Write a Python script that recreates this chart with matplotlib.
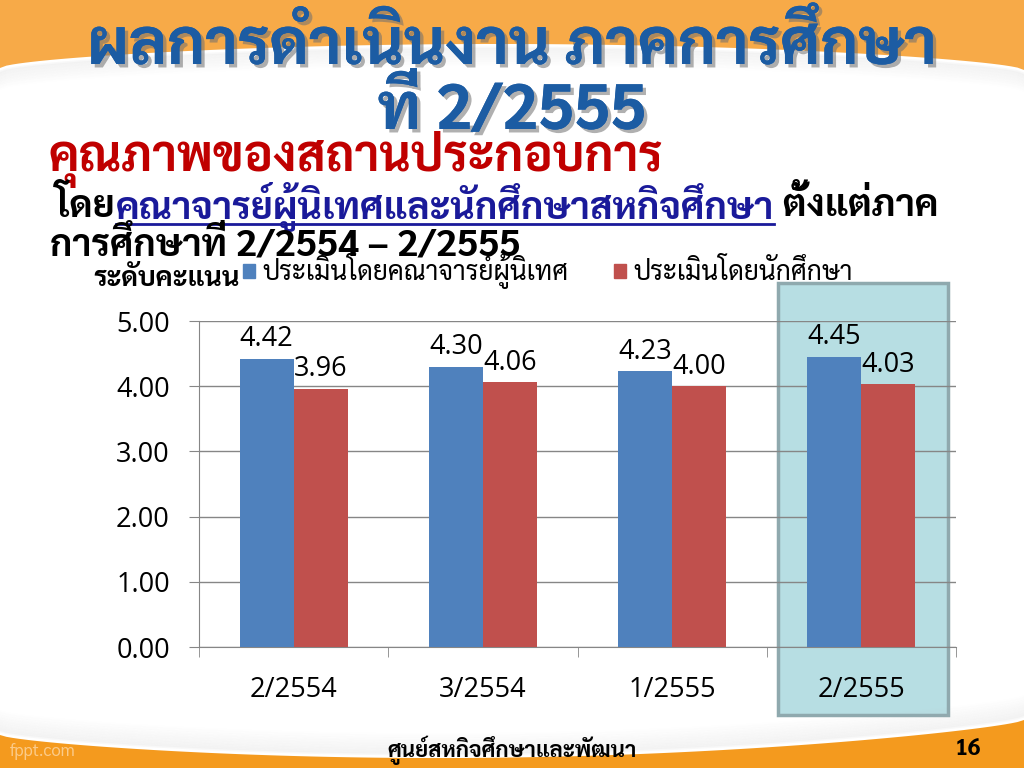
import numpy as np
import matplotlib
matplotlib.use("Agg")
import matplotlib.pyplot as plt
from matplotlib import font_manager as fm
from matplotlib.patches import Rectangle, Polygon, Patch
import matplotlib.patheffects as pe

# ---------------- data ----------------
categories = ["2/2554", "3/2554", "1/2555", "2/2555"]
supervisor_scores = [4.42, 4.30, 4.23, 4.45]
student_scores = [3.96, 4.06, 4.00, 4.03]
series_names = ["ประเมินโดยคณาจารย์ผู้นิเทศ", "ประเมินโดยนักศึกษา"]
y_ticks = [0.0, 1.0, 2.0, 3.0, 4.0, 5.0]
title_lines = ["ผลการดำเนินงาน ภาคการศึกษา", "ที่ 2/2555"]
subtitle = "คุณภาพของสถานประกอบการ"
line2_a = "โดย"
line2_b = "คณาจารย์ผู้นิเทศและนักศึกษาสหกิจศึกษา"
line2_c = " ตั้งแต่ภาค"
line3 = "การศึกษาที่ 2/2554 – 2/2555"
y_label = "ระดับคะแนน"
footer = "ศูนย์สหกิจศึกษาและพัฒนา"
page_no = "16"

# ---------------- fonts ----------------
def find_thai_fonts():
    found = {}
    try:
        from fontTools.ttLib import TTFont
    except Exception:
        return found
    for f in fm.fontManager.ttflist:
        try:
            tt = TTFont(f.fname, fontNumber=0, lazy=True)
            cmap = tt.getBestCmap()
            if cmap and 0x0E01 in cmap:
                w = f.weight if isinstance(f.weight, int) else 400
                found.setdefault(f.name, set()).add(w)
        except Exception:
            pass
    return found

thai = find_thai_fonts()
pref = ["Noto Sans Thai", "Noto Sans Thai UI", "Sarabun", "Loma", "Garuda", "Tlwg Typo", "Kinnari", "Norasi"]
cands = [p for p in pref if p in thai] + [n for n in thai if n not in pref]
with_bold = [n for n in cands if max(thai[n]) >= 600]
thai_font = with_bold[0] if with_bold else (cands[0] if cands else None)
HAS_BOLD = bool(with_bold)
FAM = ([thai_font] if thai_font else []) + ["Open Sans", "DejaVu Sans"]
NUM = ["Open Sans", "DejaVu Sans"]
plt.rcParams["font.family"] = FAM

def bold(color, size, extra=None):
    kw = dict(fontweight="bold", color=color, fontsize=size)
    effects = list(extra or [])
    if not HAS_BOLD:
        effects.append(pe.withStroke(linewidth=size * 0.07, foreground=color))
    if effects:
        if HAS_BOLD:
            effects.append(pe.Normal())
        kw["path_effects"] = effects
    return kw

W, H = 1024, 768
fig = plt.figure(figsize=(W / 100, H / 100), dpi=100)
fig.patch.set_facecolor("white")

# ---------------- background ----------------
bg = fig.add_axes([0, 0, 1, 1], zorder=-5)
bg.set_xlim(0, W)
bg.set_ylim(H, 0)
bg.axis("off")
xs = np.linspace(0, W, 160)
t = xs / W
top_curve = 68 + 2 * t - 25 * np.sin(np.pi * t) ** 0.6
for k in range(12):
    bg.plot(xs, top_curve + 4 + k * 1.5, color="#BFBFBF", lw=2, alpha=0.10 * (1 - k / 12))
bg.add_patch(Polygon(np.column_stack([np.r_[0, xs, W], np.r_[0, top_curve + 2, 0]]),
                     closed=True, fc="white", ec="none"))
bg.add_patch(Polygon(np.column_stack([np.r_[0, xs, W], np.r_[0, top_curve, 0]]),
                     closed=True, fc="#F7AA48", ec="none"))
bot_curve = 735 - 15 * t + 30 * np.sin(np.pi * t) ** 0.7
for k in range(14):
    bg.plot(xs, bot_curve - 4 - k * 1.5, color="#BFBFBF", lw=2, alpha=0.10 * (1 - k / 14))
bg.add_patch(Polygon(np.column_stack([np.r_[0, xs, W], np.r_[H, bot_curve - 2, H]]),
                     closed=True, fc="white", ec="none"))
bg.add_patch(Polygon(np.column_stack([np.r_[0, xs, W], np.r_[H, bot_curve, H]]),
                     closed=True, fc="#F49A1E", ec="none"))
# highlight box around last category
bg.add_patch(Rectangle((778, 283), 170, 432, fc="#B7DEE3", ec="#8FA9AE", lw=2.5))

# ---------------- chart ----------------
ax = fig.add_axes([199 / W, 1 - 647 / H, (956 - 199) / W, (647 - 321) / H])
ax.set_facecolor("none")
x = np.arange(len(categories))
bw = 0.285
c_blue, c_red = "#4F81BD", "#C0504D"
b1 = ax.bar(x - bw / 2, supervisor_scores, bw, color=c_blue, zorder=3)
b2 = ax.bar(x + bw / 2, student_scores, bw, color=c_red, zorder=3)
for bars, vals in ((b1, supervisor_scores), (b2, student_scores)):
    for r, v in zip(bars, vals):
        ax.annotate(f"{v:.2f}", (r.get_x() + r.get_width() / 2, v), xytext=(0, 4),
                    textcoords="offset points", ha="center", va="bottom",
                    fontsize=19.5, family=NUM, color="black", zorder=4)

ax.set_xlim(-0.5, len(categories) - 0.5)
ax.set_ylim(0, 5)
ax.set_yticks(y_ticks)
ax.set_yticklabels([f"{v:.2f}" for v in y_ticks], family=NUM, fontsize=19.5)
ax.set_xticks(x)
ax.set_xticklabels(categories, family=NUM, fontsize=19.5)
ax.set_xticks(np.arange(-0.5, len(categories)), minor=True)
ax.tick_params(axis="x", which="major", length=0, pad=21)
ax.tick_params(axis="x", which="minor", length=7, color="#868686", direction="out")
ax.tick_params(axis="y", length=7, color="#868686", pad=14)
ax.grid(axis="y", color="#868686", lw=1, zorder=1)
for s in ("top", "right"):
    ax.spines[s].set_visible(False)
for s in ("left", "bottom"):
    ax.spines[s].set_color("#868686")
ax.set_axisbelow(True)

# legend
fig.legend(handles=[Patch(color=c_blue, label=series_names[0]),
                    Patch(color=c_red, label=series_names[1])],
           loc="center left", bbox_to_anchor=(243 / W, 1 - 271 / H), ncol=2,
           frameon=False, fontsize=19, handlelength=0.45, handleheight=0.45,
           handletextpad=0.3, columnspacing=1.7, borderaxespad=0, borderpad=0)

# ---------------- texts ----------------
def ft(xp, yp, s, **kw):
    return fig.text(xp / W, 1 - yp / H, s, **kw)

shadow = [pe.withSimplePatchShadow(offset=(2.5, -2.5), shadow_rgbFace="#6F6F6F", alpha=0.55)]
title_col = "#1C5CA3"
ft(512, 48, title_lines[0], ha="center", va="center", **bold(title_col, 46, shadow))
ft(512, 113, title_lines[1], ha="center", va="center", **bold(title_col, 46, shadow))
ft(48, 159, subtitle, ha="left", va="center", **bold("#C00000", 35))

t1 = ft(55, 207, line2_a, ha="left", va="center", **bold("black", 27.2))
fig.canvas.draw()
rend = fig.canvas.get_renderer()
bb = t1.get_window_extent(rend)
link = "#1A1A9A"
t2 = fig.text(bb.x1 / W, 1 - 207 / H, line2_b, ha="left", va="center", **bold(link, 27.2))
bb2 = t2.get_window_extent(rend)
fig.add_artist(plt.Line2D([bb2.x0 / W, bb2.x1 / W], [1 - 224 / H, 1 - 224 / H],
                          color=link, lw=2))
fig.text(bb2.x1 / W, 1 - 207 / H, line2_c, ha="left", va="center", **bold("black", 27.2))
ft(50, 246, line3, ha="left", va="center", **bold("black", 27))
ft(93, 279, y_label, ha="left", va="center", **bold("black", 19.5))

ft(512, 750, footer, ha="center", va="center", **bold("black", 16))
ft(968, 749, page_no, ha="center", va="center", **bold("black", 17))
ft(10, 752, "fppt.com", ha="left", va="center", fontsize=12, color="#FBCB8A")

fig.savefig("out.png", dpi=100)
